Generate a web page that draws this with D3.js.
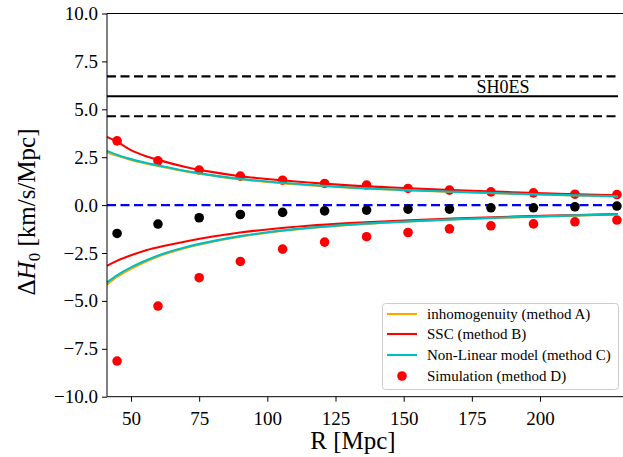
<!DOCTYPE html>
<html><head><meta charset="utf-8">
<script src="https://cdn.jsdelivr.net/npm/d3@7"></script>
<style>body{margin:0;background:#fff}svg{display:block}text{font-family:"Liberation Serif","DejaVu Serif",serif;fill:#000}</style>
</head><body><svg id="c" width="623" height="457"></svg>
<script>
// ---- data ----
const curveR   = [41.2, 45, 50, 55, 60, 70, 80, 90, 100, 115, 130, 150, 170, 190, 210, 228.6];
const methodAUp = [2.76, 2.57, 2.36, 2.19, 2.04, 1.76, 1.54, 1.35, 1.21, 1.04, 0.91, 0.78, 0.68, 0.59, 0.52, 0.45];
const methodALo = [-4.15, -3.74, -3.32, -2.98, -2.68, -2.24, -1.91, -1.65, -1.44, -1.21, -1.04, -0.87, -0.74, -0.64, -0.56, -0.49];
const methodBUp = [3.56, 3.30, 2.87, 2.58, 2.36, 1.99, 1.72, 1.51, 1.36, 1.18, 1.03, 0.89, 0.77, 0.67, 0.58, 0.51];
const methodBLo = [-3.17, -2.90, -2.62, -2.38, -2.20, -1.90, -1.64, -1.43, -1.27, -1.08, -0.94, -0.80, -0.69, -0.60, -0.53, -0.47];
const methodCUp = [2.83, 2.62, 2.40, 2.22, 2.07, 1.78, 1.55, 1.37, 1.23, 1.06, 0.92, 0.79, 0.69, 0.60, 0.52, 0.46];
const methodCLo = [-4.03, -3.65, -3.25, -2.92, -2.63, -2.20, -1.88, -1.62, -1.42, -1.19, -1.02, -0.86, -0.73, -0.63, -0.55, -0.48];
const simR     = [44.9, 59.9, 75.0, 90.1, 105.6, 121.0, 136.4, 151.6, 166.8, 182.0, 197.6, 212.8, 228.2];
const simUp    = [3.35, 2.31, 1.83, 1.51, 1.30, 1.13, 1.04, 0.87, 0.78, 0.69, 0.64, 0.57, 0.55];
const simLo    = [-8.14, -5.27, -3.79, -2.94, -2.30, -1.93, -1.65, -1.43, -1.24, -1.08, -0.98, -0.87, -0.78];
const simMean  = [-1.48, -0.99, -0.66, -0.49, -0.38, -0.30, -0.26, -0.21, -0.21, -0.14, -0.14, -0.09, -0.05];
const shoes = {mid: 5.68, hi: 6.72, lo: 4.64, label: "SH0ES"};
const xTicks = [50, 75, 100, 125, 150, 175, 200];
const yTicks = [-10, -7.5, -5, -2.5, 0, 2.5, 5, 7.5, 10];
const legendLabels = ["inhomogenuity (method A)", "SSC (method B)", "Non-Linear model (method C)", "Simulation (method D)"];
const colA = "#FFA500", colB = "#FF0000", colC = "#00BFBF";

// ---- layout ----
const L = 107, R = 630, T = 13.5, B = 396.7;
const svg = d3.select("#c");
const x = d3.scaleLinear().domain([41.2, 233]).range([L, R]);
const y = d3.scaleLinear().domain([-10, 10]).range([B, T]);
const xEnd = 228.6;

const plot = svg.append("g");
const line = d3.line().x(d => x(d[0])).y(d => y(d[1]));

// SH0ES lines
plot.append("line").attr("x1", x(41.2)).attr("x2", x(xEnd)).attr("y1", y(shoes.mid)).attr("y2", y(shoes.mid))
  .attr("stroke", "#000").attr("stroke-width", 2.1);
[shoes.hi, shoes.lo].forEach(v => plot.append("line").attr("x1", x(41.2)).attr("x2", x(xEnd)).attr("y1", y(v)).attr("y2", y(v))
  .attr("stroke", "#000").attr("stroke-width", 2.1).attr("stroke-dasharray", "9,4.5"));
svg.append("text").attr("x", 503).attr("y", 92.5).attr("text-anchor", "middle").attr("font-size", 18).text(shoes.label);

// simulation dots (red)
plot.selectAll("circle.up").data(simR).enter().append("circle").attr("cx", d => x(d)).attr("cy", (d, i) => y(simUp[i])).attr("r", 4.8).attr("fill", colB);
plot.selectAll("circle.lo").data(simR).enter().append("circle").attr("cx", d => x(d)).attr("cy", (d, i) => y(simLo[i])).attr("r", 4.8).attr("fill", colB);

// curves
[[methodAUp, colA], [methodALo, colA], [methodBUp, colB], [methodBLo, colB], [methodCUp, colC], [methodCLo, colC]].forEach(([vals, c]) => {
  plot.append("path").datum(curveR.map((r, i) => [r, vals[i]]))
    .attr("d", line.curve(d3.curveMonotoneX)).attr("fill", "none").attr("stroke", c).attr("stroke-width", 2.1);
});

// zero line
plot.append("line").attr("x1", x(41.2)).attr("x2", x(xEnd)).attr("y1", y(0)).attr("y2", y(0))
  .attr("stroke", "#0000FF").attr("stroke-width", 2.1).attr("stroke-dasharray", "9,4.5");

// mean dots (black)
plot.selectAll("circle.mean").data(simR).enter().append("circle").attr("cx", d => x(d)).attr("cy", (d, i) => y(simMean[i])).attr("r", 4.8).attr("fill", "#000");

// axes
const fmtY = d => (d < 0 ? "\u2212" : "") + Math.abs(d).toFixed(1);
const gx = svg.append("g").attr("transform", `translate(0,${B})`)
  .call(d3.axisBottom(x).tickValues(xTicks).tickSize(5).tickPadding(5).tickFormat(d3.format("d")));
const gy = svg.append("g").attr("transform", `translate(${L},0)`)
  .call(d3.axisLeft(y).tickValues(yTicks).tickSize(5).tickPadding(4).tickFormat(fmtY));
[gx, gy].forEach(g => {
  g.select(".domain").remove();
  g.selectAll("line").attr("stroke", "#000").attr("stroke-width", 1);
  g.selectAll("text").attr("font-size", 19).attr("font-family", "Liberation Serif, serif").attr("fill", "#000");
});
gx.selectAll("text").attr("dy", "0.95em");
// spines
svg.append("line").attr("x1", L).attr("x2", L).attr("y1", T).attr("y2", B).attr("stroke", "#000").attr("stroke-width", 1);
svg.append("line").attr("x1", L).attr("x2", 623).attr("y1", B).attr("y2", B).attr("stroke", "#000").attr("stroke-width", 1);
svg.append("line").attr("x1", L).attr("x2", 623).attr("y1", T).attr("y2", T).attr("stroke", "#000").attr("stroke-width", 1);

// axis labels
svg.append("text").attr("x", 353).attr("y", 449).attr("text-anchor", "middle").attr("font-size", 25).text("R [Mpc]");
const yl = svg.append("text").attr("transform", "translate(35,212) rotate(-90)").attr("text-anchor", "middle").attr("font-size", 25);
yl.append("tspan").text("\u0394");
yl.append("tspan").attr("font-style", "italic").text("H");
yl.append("tspan").attr("font-size", 17).attr("dy", 5).text("0");
yl.append("tspan").attr("dy", -5).text(" [km/s/Mpc]");

// legend
const lg = svg.append("g");
lg.append("rect").attr("x", 382.5).attr("y", 303.5).attr("width", 236).attr("height", 86).attr("rx", 3)
  .attr("fill", "#fff").attr("fill-opacity", 0.8).attr("stroke", "#ccc").attr("stroke-width", 1);
const rowsY = [314, 334, 355, 376];
[colA, colB, colC].forEach((c, i) => lg.append("line").attr("x1", 387).attr("x2", 417).attr("y1", rowsY[i]).attr("y2", rowsY[i]).attr("stroke", c).attr("stroke-width", 2.1));
lg.append("circle").attr("cx", 402).attr("cy", rowsY[3]).attr("r", 4.8).attr("fill", colB);
legendLabels.forEach((t, i) => lg.append("text").attr("x", 427).attr("y", rowsY[i] + 5).attr("font-size", 15).text(t));
</script></body></html>
